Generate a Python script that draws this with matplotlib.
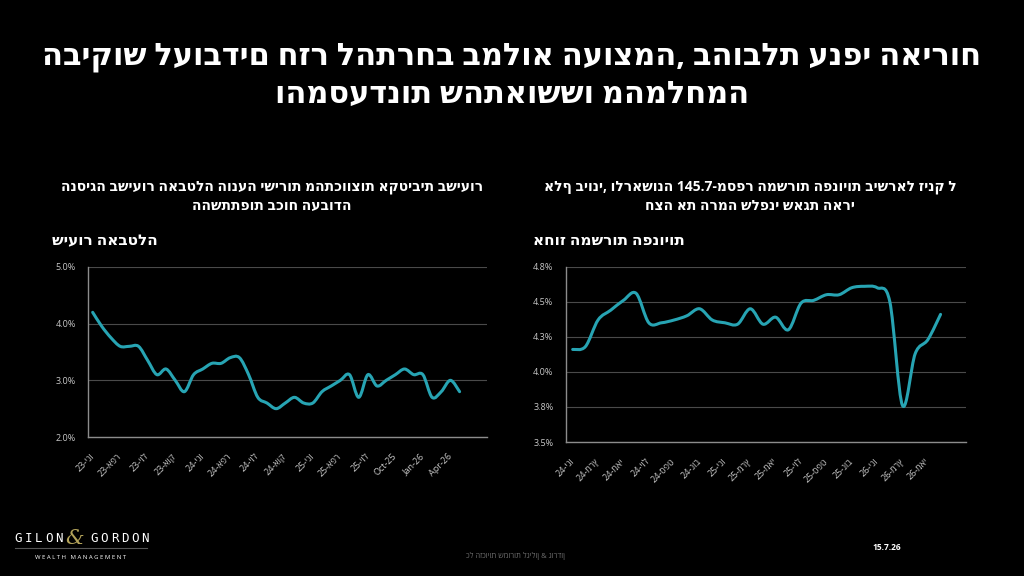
import re
import matplotlib
matplotlib.use("Agg")
import matplotlib.pyplot as plt
from matplotlib.path import Path
from matplotlib.patches import PathPatch
from matplotlib.lines import Line2D

plt.rcParams['font.family'] = ['Open Sans', 'DejaVu Sans']

# ---------------- data ----------------
title_lines = ["הביקוש לעובדים חזר להתרחב במלוא העוצמה, בהובלת ענפי האירוח",
               "והמסעדנות שהתאוששו מהמלחמה"]

left_subtitle = ["הנסיגה בשיעור האבטלה הונעה ישירות מהתכווצות אקטיבית בשיעור",
                 "ההשתתפות בכוח העבודה"]
left_axis_title = "שיעור האבטלה"
# monthly, Jan-23 .. May-26
unemployment = [4.2, 3.95, 3.75, 3.6, 3.6, 3.6, 3.35, 3.1, 3.2, 3.0,
                2.8, 3.1, 3.2, 3.3, 3.3, 3.4, 3.4, 3.1, 2.7, 2.6,
                2.5, 2.6, 2.7, 2.6, 2.6, 2.8, 2.9, 3.0, 3.1, 2.7,
                3.1, 2.9, 3.0, 3.1, 3.2, 3.1, 3.1, 2.7, 2.8, 3.0, 2.8]
left_xlabels = ["ינו-23", "אפר-23", "יול-23", "אוק-23", "ינו-24", "אפר-24", "יול-24",
                "אוק-24", "ינו-25", "אפר-25", "יול-25", "Oct-25", "Jan-26", "Apr-26"]
left_yticks = [2.0, 3.0, 4.0, 5.0]
left_ylabels = ["2.0%", "3.0%", "4.0%", "5.0%"]

right_subtitle = ["מספר המשרות הפנויות בישראל זינק ל-145.7 אלף ביוני, ולראשונה",
                  "חצה את הרמה שלפני שאגת הארי"]
right_axis_title = "אחוז המשרות הפנויות"
# monthly, Jan-24 .. Jun-26
vacancies = [4.16, 4.18, 4.37, 4.44, 4.51, 4.56, 4.35, 4.35, 4.37, 4.40,
             4.45, 4.37, 4.35, 4.34, 4.45, 4.34, 4.39, 4.30, 4.49, 4.51,
             4.55, 4.55, 4.60, 4.61, 4.60, 4.50, 3.76, 4.13, 4.23, 4.41]
right_xlabels = ["ינו-24", "מרץ-24", "מאי-24", "יול-24", "ספט-24", "נוב-24", "ינו-25",
                 "מרץ-25", "מאי-25", "יול-25", "ספט-25", "נוב-25", "ינו-26", "מרץ-26", "מאי-26"]
right_yticks = [3.5, 3.75, 4.0, 4.25, 4.5, 4.75]
right_ylabels = ["3.5%", "3.8%", "4.0%", "4.3%", "4.5%", "4.8%"]

footer_text = "כל הזכויות שמורות לגילון & גורדון"
date_text = "15.7.26"


# ---------------- helpers ----------------
HEB = re.compile(r'[\u0590-\u05FF]')


def rtl(s):
    """Order runs of a right-to-left line (with embedded numbers) for the text engine,
    which shapes Hebrew runs itself but lays runs out left to right."""
    if not HEB.search(s):
        return s
    tokens = re.findall(r'[A-Za-z0-9]+(?:[.,:][0-9]+)*%?|[^A-Za-z0-9]+', s)
    if len(tokens) == 1:
        return s
    out = []
    for t in reversed(tokens):
        if re.match(r'[A-Za-z0-9]', t):
            out.append(t)
        else:
            m = re.match(r'^([^\w]*)(.*?)([^\w]*)$', t, re.S)
            lead, core, trail = m.group(1), m.group(2), m.group(3)
            out.append(trail[::-1] + core + lead[::-1])
    return ''.join(out)


def smooth_path(xs, ys):
    pts = list(zip(xs, ys))
    n = len(pts)
    verts = [pts[0]]
    codes = [Path.MOVETO]
    for i in range(n - 1):
        p0 = pts[i - 1] if i > 0 else pts[i]
        p1 = pts[i]
        p2 = pts[i + 1]
        p3 = pts[i + 2] if i + 2 < n else pts[i + 1]
        c1 = (p1[0] + (p2[0] - p0[0]) / 6.0, p1[1] + (p2[1] - p0[1]) / 6.0)
        c2 = (p2[0] - (p3[0] - p1[0]) / 6.0, p2[1] - (p3[1] - p1[1]) / 6.0)
        verts += [c1, c2, p2]
        codes += [Path.CURVE4] * 3
    return Path(verts, codes)


BG = "black"
LINE = "#27a4b3"
GRID = "#4a4a4a"
SPINE = "#8c8c8c"
TICK = "#c8c8c8"

fig = plt.figure(figsize=(10.24, 5.76), dpi=100, facecolor=BG)


def make_axes(rect, values, xlabels, step, yticks, ylabels, xlim):
    ax = fig.add_axes(rect, facecolor=BG)
    xs = list(range(len(values)))
    ax.add_patch(PathPatch(smooth_path(xs, values), facecolor='none',
                           edgecolor=LINE, lw=2.2, capstyle='round', joinstyle='round'))
    ax.set_xlim(*xlim)
    ax.set_ylim(yticks[0], yticks[-1])
    ax.set_yticks(yticks)
    ax.set_yticklabels(ylabels)
    ax.set_xticks(list(range(0, step * len(xlabels), step)))
    ax.set_xticklabels([rtl(l) for l in xlabels], rotation=45, ha='right',
                       va='center', rotation_mode='anchor')
    ax.tick_params(axis='both', length=0, colors=TICK, labelsize=6.5)
    ax.tick_params(axis='y', pad=9)
    ax.tick_params(axis='x', pad=13)
    ax.grid(axis='y', color=GRID, lw=0.8)
    ax.set_axisbelow(True)
    for s in ['top', 'right']:
        ax.spines[s].set_visible(False)
    for s in ['left', 'bottom']:
        ax.spines[s].set_color(SPINE)
        ax.spines[s].set_linewidth(1.0)
    return ax


make_axes([0.0862, 0.2413, 0.3895, 0.2952], unemployment, left_xlabels, 3,
          left_yticks, left_ylabels, (-0.48, 43))
make_axes([0.5527, 0.2326, 0.3906, 0.3044], vacancies, right_xlabels, 2,
          right_yticks, right_ylabels, (-0.53, 31))

W, H = 1024.0, 576.0


def ftext(x, y, s, **kw):
    fig.text(x / W, 1 - y / H, rtl(s), **kw)


# title
ftext(512, 65, title_lines[0], ha='center', va='baseline', color='white',
      fontsize=22, fontweight='bold')
ftext(512, 103, title_lines[1], ha='center', va='baseline', color='white',
      fontsize=22, fontweight='bold')

# subtitles
ftext(272, 191, left_subtitle[0], ha='center', va='baseline', color='white',
      fontsize=10, fontweight='bold')
ftext(272, 210, left_subtitle[1], ha='center', va='baseline', color='white',
      fontsize=10, fontweight='bold')
ftext(750, 191, right_subtitle[0], ha='center', va='baseline', color='white',
      fontsize=10, fontweight='bold')
ftext(750, 210, right_subtitle[1], ha='center', va='baseline', color='white',
      fontsize=10, fontweight='bold')

# axis titles
ftext(52, 245, left_axis_title, ha='left', va='baseline', color='white',
      fontsize=11, fontweight='bold')
ftext(533, 245, right_axis_title, ha='left', va='baseline', color='white',
      fontsize=11, fontweight='bold')

# footer
ftext(515, 558, footer_text, ha='center', va='baseline', color='#6e6e6e', fontsize=5.5)
ftext(887, 550, date_text, ha='center', va='baseline', color='white', fontsize=6,
      fontweight='bold')

# logo
for i, ch in enumerate("GILON"):
    ftext(18 + i * 10.2, 542, ch, ha='center', va='baseline', color='white',
          fontsize=9, family='DejaVu Sans Mono')
ftext(75, 544, "&", ha='center', va='baseline', color='#b3a35a', fontsize=15,
      family='DejaVu Serif', style='italic')
for i, ch in enumerate("GORDON"):
    ftext(94 + i * 10.2, 542, ch, ha='center', va='baseline', color='white',
          fontsize=9, family='DejaVu Sans Mono')
fig.add_artist(Line2D([15 / W, 147 / W], [1 - 548 / H, 1 - 548 / H],
                      color='#555555', lw=0.8))
ftext(81, 559, "W E A L T H   M A N A G E M E N T", ha='center', va='baseline',
      color='white', fontsize=4.3)

fig.savefig("out.png", dpi=100, facecolor=BG)
